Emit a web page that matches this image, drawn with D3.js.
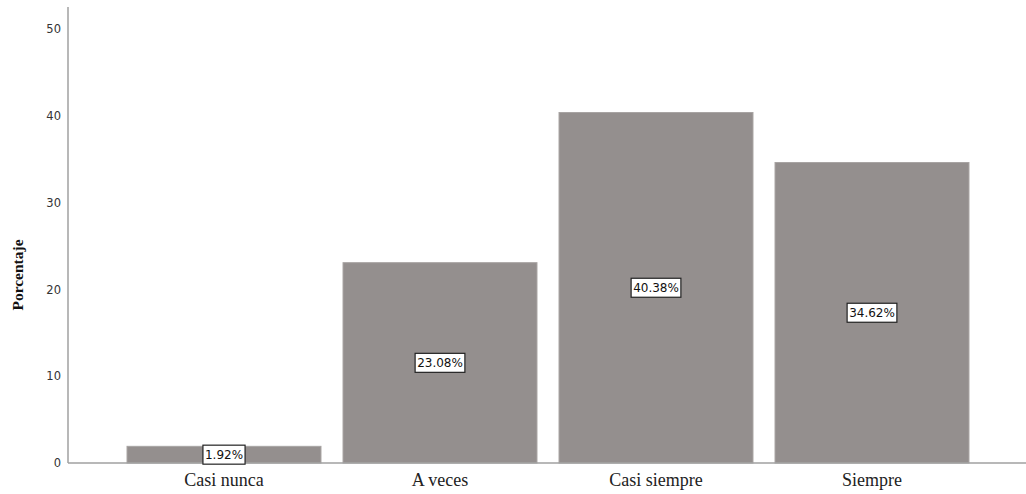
<!DOCTYPE html>
<html><head><meta charset="utf-8">
<script src="https://cdn.jsdelivr.net/npm/d3@7"></script>
<style>body{margin:0;background:#fff}svg{display:block}</style>
</head><body>
<svg id="c" width="1026" height="494"></svg>
<script>
const categories = ["Casi nunca", "A veces", "Casi siempre", "Siempre"];
const values = [1.92, 23.08, 40.38, 34.62];
const yTicks = [0, 10, 20, 30, 40, 50];
const yLabel = "Porcentaje";

const svg = d3.select("#c");
const x = d3.scaleBand().domain(categories).range([116, 980]).paddingInner(0.102).paddingOuter(0.051);
const y = d3.scaleLinear().domain([0, 50]).range([463, 29]);

// bars
svg.append("g").selectAll("rect").data(values).join("rect")
  .attr("x", (d, i) => x(categories[i]))
  .attr("width", x.bandwidth())
  .attr("y", d => y(d))
  .attr("height", d => y(0) - y(d))
  .attr("fill", "#948f8e")
  .attr("stroke", "#a8a4a3").attr("stroke-width", 1);

// axes lines
svg.append("line").attr("x1", 68).attr("x2", 68).attr("y1", 7).attr("y2", y(0))
  .attr("stroke", "#a0a0a0").attr("stroke-width", 1.5);
svg.append("line").attr("x1", 68).attr("x2", 1026).attr("y1", y(0)).attr("y2", y(0))
  .attr("stroke", "#a0a0a0").attr("stroke-width", 1.5);

// y ticks
const yAxis = d3.axisLeft(y).tickValues(yTicks).tickSize(0).tickPadding(0);
const ga = svg.append("g").attr("transform", "translate(61,0)").call(yAxis);
ga.select(".domain").remove();
ga.selectAll("text").attr("font-family", "'DejaVu Sans', sans-serif").attr("font-size", 11.5).attr("fill", "#333");

// x labels
const xAxis = d3.axisBottom(x).tickSize(0).tickPadding(0);
const gx = svg.append("g").attr("transform", "translate(0,486)").call(xAxis);
gx.select(".domain").remove();
gx.selectAll("text").attr("dy", null).attr("y", 0).attr("font-family", "'Liberation Serif', serif").attr("font-size", 18).attr("fill", "#222");

// y label
svg.append("text").attr("transform", "translate(23,275) rotate(-90)")
  .attr("text-anchor", "middle").attr("font-family", "'Liberation Serif', serif")
  .attr("font-weight", "bold").attr("font-size", 15.5).attr("fill", "#111").text(yLabel);

// value labels
const lg = svg.append("g").selectAll("g").data(values).join("g")
  .attr("transform", (d, i) => `translate(${x(categories[i]) + x.bandwidth() / 2},${(y(d) + y(0)) / 2})`);
lg.append("text").attr("text-anchor", "middle").attr("dy", "0.36em")
  .attr("font-family", "'DejaVu Sans', sans-serif").attr("font-size", 12).attr("fill", "#111")
  .text(d => d.toFixed(2) + "%");
lg.each(function() {
  const g = d3.select(this);
  const b = g.select("text").node().getBBox();
  g.insert("rect", "text").attr("x", b.x - 2).attr("y", -9.5).attr("width", b.width + 4).attr("height", 19)
    .attr("fill", "#fff").attr("stroke", "#222").attr("stroke-width", 1.2);
});
</script>
</body></html>
